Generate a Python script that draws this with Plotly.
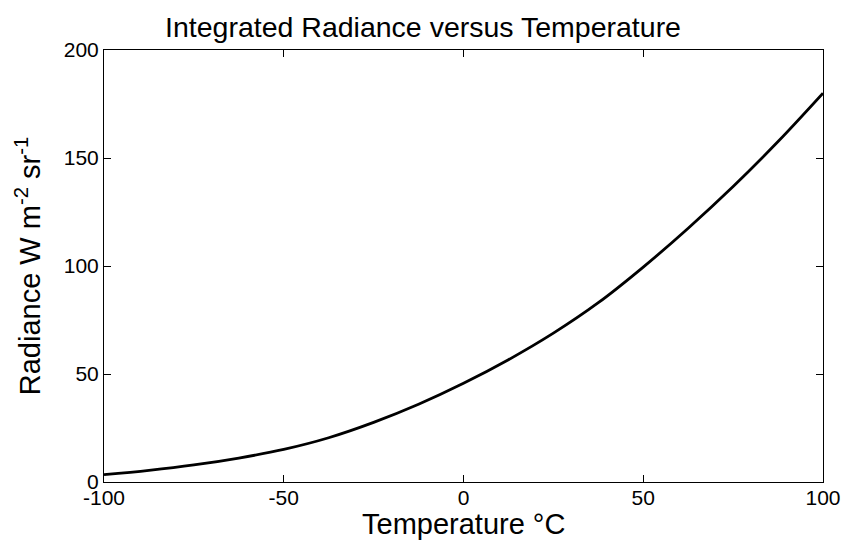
import plotly.graph_objects as go

temperature_c = [-100, -87.5, -75, -62.5, -50, -37.5, -25, -12.5, 0, 12.5, 25, 37.5, 50, 62.5, 75, 87.5, 100]
radiance = [3.4, 5.4, 7.9, 11.1, 15.1, 20.5, 27.6, 36.0, 45.7, 56.6, 68.9, 83.0, 99.5, 117.5, 136.8, 157.6, 180.0]

x_ticks = [-100, -50, 0, 50, 100]
y_ticks = [0, 50, 100, 150, 200]

font_family = "Liberation Sans, Arial, sans-serif"

fig = go.Figure()
fig.add_trace(go.Scatter(
    x=temperature_c, y=radiance, mode="lines",
    line=dict(color="black", width=2.8, shape="spline", smoothing=1.0),
    showlegend=False, hoverinfo="skip",
))

axis_common = dict(
    showgrid=False, zeroline=False, showline=True, linecolor="black", linewidth=1,
    mirror="ticks", ticks="inside", ticklen=7, tickwidth=1, tickcolor="black",
    tickfont=dict(family=font_family, size=21, color="black"),
    automargin=False,
)

fig.update_layout(
    width=846, height=548,
    margin=dict(l=104, r=23, t=50, b=66),
    paper_bgcolor="white", plot_bgcolor="white",
    title=dict(text="Integrated Radiance versus Temperature", x=0.5, xanchor="center",
               y=1 - 27 / 548, yanchor="middle",
               font=dict(family=font_family, size=28.5, color="black")),
    xaxis=dict(range=[-100, 100], tickvals=x_ticks, ticktext=[str(v) for v in x_ticks],
               ticklabelstandoff=-3, **axis_common),
    yaxis=dict(range=[0, 200], tickvals=y_ticks, ticktext=[str(v) for v in y_ticks],
               title=dict(text="Radiance W m<sup>-2</sup> sr<sup>-1</sup>", standoff=14,
                          font=dict(family=font_family, size=29, color="black")),
               **axis_common),
    annotations=[dict(
        text="Temperature °C", xref="paper", yref="paper", x=0.5, y=0,
        xanchor="center", yanchor="middle", yshift=-42, showarrow=False,
        font=dict(family=font_family, size=29, color="black"),
    )],
)

fig.write_html("out.html")
